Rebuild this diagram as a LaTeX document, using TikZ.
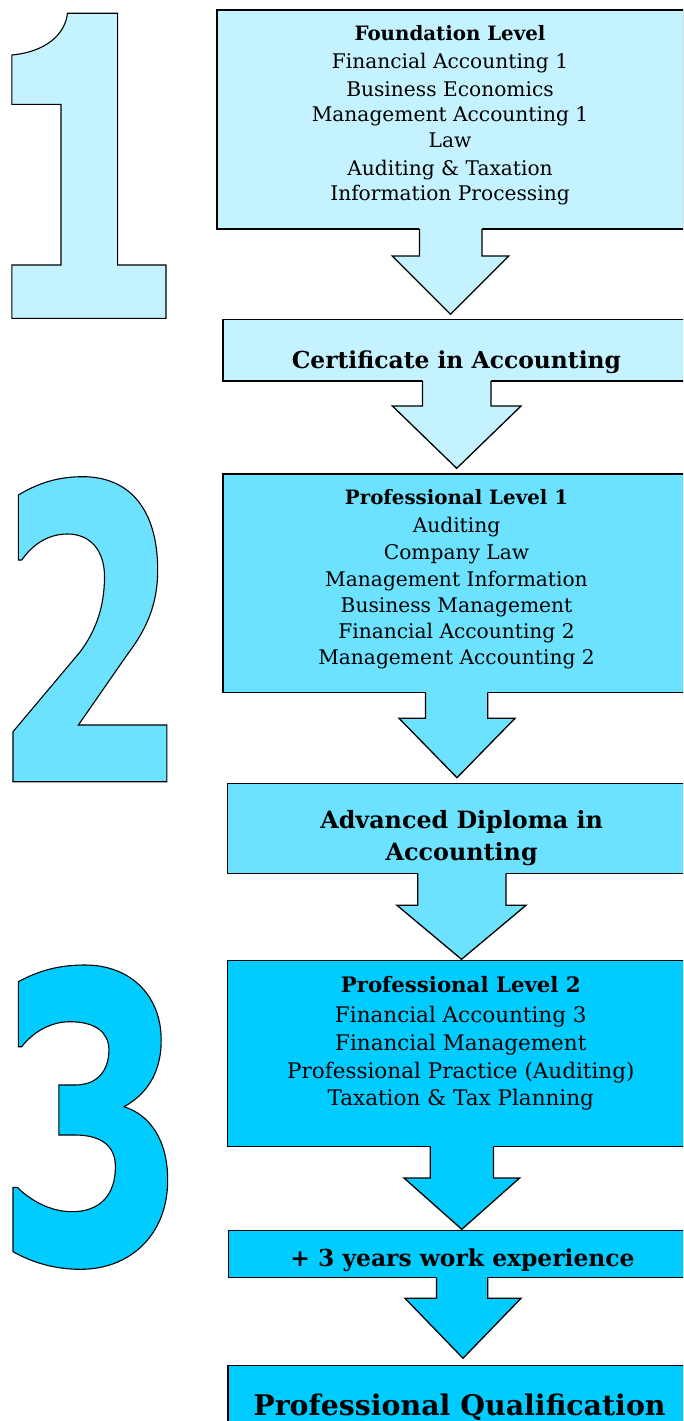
\documentclass[tikz,border=0pt]{standalone}
\usepackage{fontspec}
\setmainfont{DejaVu Serif}
\usetikzlibrary{calc}
\definecolor{tA}{HTML}{C5F2FF}
\definecolor{tB}{HTML}{6CE2FF}
\definecolor{tC}{HTML}{00CCFF}
% from, to, colour, shaft left, shaft right, shaft bottom, tip x, head half width, gap
\newcommand\barrow[9]{%
  \path[fill=#3] let \p1=(#1.south), \p2=(#2.north) in
    (#4pt,{\y1+1.6pt}) -- (#4pt,-#6pt) -- ({#7pt-#8pt},-#6pt) -- (#7pt,{\y2+#9pt})
    -- ({#7pt+#8pt},-#6pt) -- (#5pt,-#6pt) -- (#5pt,{\y1+1.6pt}) -- cycle;
  \draw[line width=1.3pt] let \p1=(#1.south), \p2=(#2.north) in
    (#4pt,\y1) -- (#4pt,-#6pt) -- ({#7pt-#8pt},-#6pt) -- (#7pt,{\y2+#9pt})
    -- ({#7pt+#8pt},-#6pt) -- (#5pt,-#6pt) -- (#5pt,\y1);
}
\begin{document}
\begin{tikzpicture}[x=1pt,y=-1pt,line join=miter,
  box/.style={draw=black,line width=1.3pt,rectangle,inner sep=0pt,outer sep=0pt,anchor=north west},
  lab/.style={anchor=base,inner sep=0pt,font=\fontsize{20.2}{22}\selectfont},
  hd/.style={anchor=base,inner sep=0pt,font=\fontsize{19.8}{22}\selectfont\bfseries},
  labc/.style={anchor=base,inner sep=0pt,font=\fontsize{21.5}{23}\selectfont},
  hdc/.style={anchor=base,inner sep=0pt,font=\fontsize{21.3}{23}\selectfont\bfseries},
  big/.style={anchor=base,inner sep=0pt,font=\fontsize{23.4}{26}\selectfont\bfseries},
  digit/.style={draw=black,line width=1.1pt}]
\useasboundingbox (0,0) rectangle (683,1421);
\clip (0,0) rectangle (683,1421);

% big digits
\path[digit,fill=tA] (11.8,55) .. controls (45,52) and (65,35) .. (67.5,13.3)
  -- (117.6,13.3) -- (117.6,265) -- (166,265) -- (166,318.3) -- (11.8,318.3)
  -- (11.8,265) -- (61,265) -- (61,104.3) -- (11.8,104.3) -- cycle;

\path[digit,fill=tB] (18.3,495) .. controls (40,482) and (60,476.7) .. (82.8,476.7)
  .. controls (130,476.7) and (157.7,510) .. (157.7,570)
  .. controls (157.7,610) and (142,635) .. (127,655) -- (78.4,725) -- (166.8,725)
  -- (166.8,781.7) -- (13,781.7) -- (13,731.7) -- (80,652)
  .. controls (95,632) and (104.5,608) .. (104.5,576.7)
  .. controls (104.5,550) and (90,534) .. (67.5,534)
  .. controls (45,534) and (30,548) .. (21.8,560) -- (18.3,560) -- cycle;

\path[digit,fill=tC] (18.3,981.7) .. controls (40,970) and (60,965) .. (84.9,965)
  .. controls (130,965) and (161.2,995) .. (161.2,1040)
  .. controls (161.2,1075) and (145,1095) .. (124.1,1106.7)
  .. controls (150,1115) and (167.7,1140) .. (167.7,1180)
  .. controls (167.7,1235) and (130,1269.3) .. (80.6,1269.3)
  .. controls (50,1269.3) and (28,1260) .. (13,1251.7) -- (13,1187.3) -- (17.4,1187.3)
  .. controls (30,1200) and (50,1211.7) .. (71.9,1211.7)
  .. controls (100,1211.7) and (115.4,1195) .. (115.4,1166.7)
  .. controls (115.4,1145) and (100,1135) .. (75,1135) -- (58.8,1135) -- (58.8,1085)
  -- (75,1085) .. controls (98,1085) and (108.9,1070) .. (108.9,1050)
  .. controls (108.9,1032) and (95,1021.7) .. (69.7,1021.7)
  .. controls (50,1021.7) and (32,1033) .. (21.8,1046.7) -- (18.3,1046.7) -- cycle;

% boxes
\node[box,fill=tA,minimum width=467pt,minimum height=219pt] (found) at (217,10) {};
\node[box,fill=tA,minimum width=467pt,minimum height=61.7pt] (cert) at (223,319.3) {};
\node[box,fill=tB,minimum width=467pt,minimum height=218.3pt] (pl1) at (223,474) {};
\node[box,fill=tB,minimum width=468.6pt,minimum height=90pt] (adv) at (227.4,783.3) {};
\node[box,fill=tC,minimum width=466.2pt,minimum height=186pt] (pl2) at (227.8,960.7) {};
\node[box,fill=tC,minimum width=468.8pt,minimum height=46.6pt] (exp) at (228.2,1230.7) {};
\node[box,fill=tC,minimum width=463pt,minimum height=110pt] (pq) at (228,1365.7) {};

% arrows
\barrow{found}{cert}{tA}{419.4}{482}{256}{450.5}{58.3}{5}
\barrow{cert}{pl1}{tA}{422.5}{491}{406}{456.7}{64.3}{5.7}
\barrow{pl1}{adv}{tB}{425.5}{487.8}{718.3}{457}{58}{5.6}
\barrow{adv}{pl2}{tB}{417.7}{506}{905.3}{461.5}{64.5}{1.4}
\barrow{pl2}{exp}{tC}{430.3}{493.5}{1178}{461.8}{57.8}{1.4}
\barrow{exp}{pq}{tC}{436.4}{487.8}{1298.3}{463}{58}{7.4}

% texts
\node[hd]  (f0) at (450,40.7) {Foundation Level};
\node[lab] (f1) at (450,68.3) {Financial Accounting 1};
\node[lab] (f2) at (450,96) {Business Economics};
\node[lab] (f3) at (450,121.7) {Management Accounting 1};
\node[lab] (f4) at (450,147.7) {Law};
\node[lab] (f5) at (450,175) {Auditing \& Taxation};
\node[lab] (f6) at (450,200) {Information Processing};

\node[big] (c0) at (456.4,368.3) {Certificate in Accounting};

\node[hd]  (p0) at (456.5,504.3) {Professional Level 1};
\node[lab] (p1) at (456.5,532.7) {Auditing};
\node[lab] (p2) at (456.5,559.3) {Company Law};
\node[lab] (p3) at (456.5,586) {Management Information};
\node[lab] (p4) at (456.5,612.7) {Business Management};
\node[lab] (p5) at (456.5,638.3) {Financial Accounting 2};
\node[lab] (p6) at (456.5,664.3) {Management Accounting 2};

\node[big,font=\fontsize{23.8}{26}\selectfont\bfseries] (a0) at (461.7,828.3) {Advanced Diploma in};
\node[big,font=\fontsize{23.8}{26}\selectfont\bfseries] (a1) at (461.7,860) {Accounting};

\node[hdc]  (q0) at (460.8,992.3) {Professional Level 2};
\node[labc] (q1) at (460.8,1022.3) {Financial Accounting 3};
\node[labc] (q2) at (460.8,1050) {Financial Management};
\node[labc] (q3) at (460.8,1078.3) {Professional Practice (Auditing)};
\node[labc] (q4) at (460.8,1105.7) {Taxation \& Tax Planning};

\node[big,font=\fontsize{23.4}{25}\selectfont\bfseries] (e0) at (462.5,1266.7) {+ 3 years work experience};
\node[big,font=\fontsize{28.4}{30}\selectfont\bfseries] (z0) at (459.5,1415) {Professional Qualification};
\end{tikzpicture}
\end{document}
